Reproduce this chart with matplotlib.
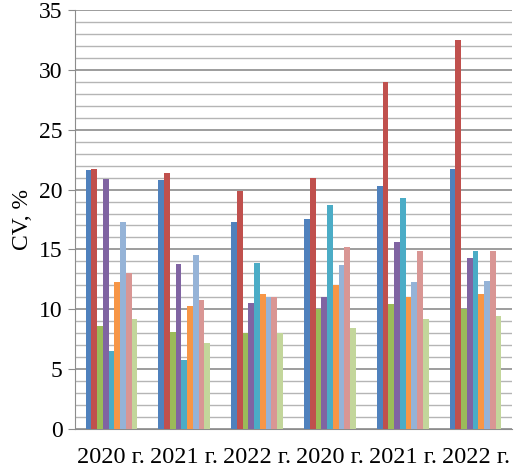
import numpy as np
import matplotlib.pyplot as plt

# group labels and the nine series per group
groups = ["2020 г.", "2021 г.", "2022 г.", "2020 г.", "2021 г.", "2022 г."]
s1 = [21.6, 20.8, 17.3, 17.5, 20.3, 21.7]
s2 = [21.7, 21.4, 19.9, 21.0, 29.0, 32.5]
s3 = [8.6, 8.1, 8.0, 10.0, 10.4, 10.0]
s4 = [20.9, 13.8, 10.5, 11.0, 15.6, 14.3]
s5 = [6.5, 5.8, 13.9, 18.7, 19.3, 14.9]
s6 = [12.3, 10.3, 11.3, 12.0, 11.0, 11.3]
s7 = [17.3, 14.5, 11.0, 13.7, 12.3, 12.4]
s8 = [13.0, 10.8, 11.0, 15.2, 14.9, 14.9]
s9 = [9.2, 7.2, 8.0, 8.4, 9.2, 9.4]
series = [s1, s2, s3, s4, s5, s6, s7, s8, s9]
colors = ["#4F81BD", "#C0504D", "#9BBB59", "#8064A2", "#4BACC6",
          "#F79646", "#95B3D7", "#D99694", "#C3D69B"]

plt.rcParams['font.family'] = ['Liberation Serif', 'DejaVu Serif']

fig = plt.figure(figsize=(5.17, 4.69), dpi=100)
ax = fig.add_axes([75 / 517, 40 / 469, 437 / 517, 419 / 469])

x = np.arange(len(groups))
w = 0.079
for i, (vals, c) in enumerate(zip(series, colors)):
    ax.bar(x + (i - 4) * w, vals, width=w, color=c, zorder=3, linewidth=0)

ax.set_xlim(-0.5, len(groups) - 0.5)
ax.set_ylim(0, 35)
ax.set_yticks(np.arange(0, 36, 5))
ax.set_yticks(np.arange(0, 36, 1), minor=True)
ax.grid(axis='y', which='major', color='#8c8c8c', linewidth=1.2, zorder=0)
ax.grid(axis='y', which='minor', color='#b5b5b5', linewidth=1.0, zorder=0)
ax.set_xticks(x)
ax.set_xticklabels(groups)

for side in ['top', 'right']:
    ax.spines[side].set_visible(False)
ax.spines['left'].set_color('#8c8c8c')
ax.spines['bottom'].set_color('#8c8c8c')
ax.tick_params(axis='y', which='major', length=5, color='#8c8c8c', labelsize=17, pad=4)
ax.tick_params(axis='y', which='minor', length=0)
ax.tick_params(axis='x', length=0, labelsize=17.5, pad=13)
ax.set_ylabel("CV, %", fontsize=17, labelpad=4)

fig.savefig("out.png", dpi=100)
